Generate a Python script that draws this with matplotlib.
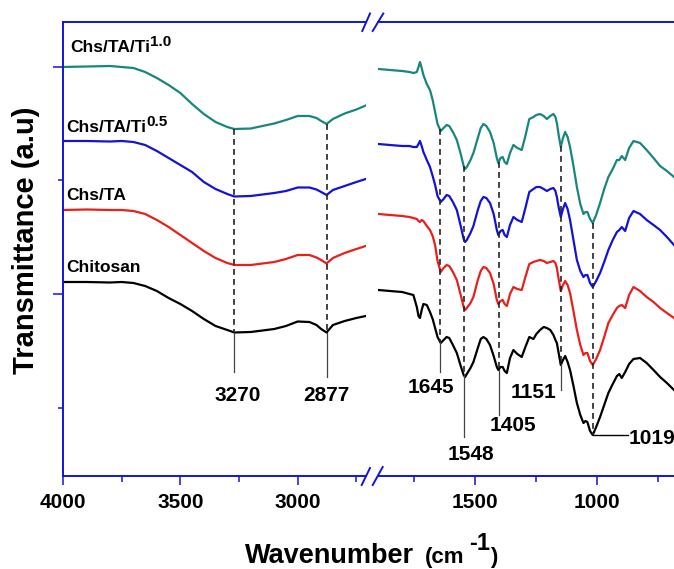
import numpy as np
import matplotlib
matplotlib.use('Agg')
import matplotlib.pyplot as plt
from matplotlib.lines import Line2D

plt.rcParams['font.family'] = ['Liberation Sans', 'DejaVu Sans']
plt.rcParams['font.weight'] = 'bold'

# ---- data (transmittance in a.u.) ----
names = ['Chitosan', 'Chs/TA', 'Chs/TA/Ti', 'Chs/TA/Ti']
name_sups = ['', '', '0.5', '1.0']

wn_left = [4000, 3900, 3800, 3750, 3700, 3650, 3600, 3550, 3500, 3450, 3400, 3350, 3300,
           3270, 3200, 3100, 3050, 3000, 2950, 2920, 2900, 2877, 2850, 2800, 2750, 2710]
chitosan_left = [194, 194, 193.5, 194, 193, 190, 185, 178, 172, 165, 157, 150, 146,
                 143.5, 144, 147, 150, 154.5, 154, 151, 147, 143.5, 151, 155, 158, 160]
chs_ta_left = [266, 266.5, 266, 266, 265, 262, 256, 249, 241, 233, 225, 218, 213,
               211, 211, 214, 217, 221, 221, 218.5, 216, 212.5, 218, 223, 227, 230]
ti05_left = [335, 335, 334.5, 335, 334, 331, 325, 318, 311, 304, 294, 287, 282,
             279.5, 280, 283, 285, 288.5, 288.5, 286.5, 284, 281, 286, 290, 294, 297]
ti10_left = [409, 409.5, 410, 409, 408, 404, 398, 391, 383, 372, 362, 354, 349,
             347, 347.5, 352.5, 356, 360, 360, 358, 355, 352, 357, 362.5, 366.5, 370.5]

wn_right = [1897, 1850, 1800, 1770, 1754, 1740, 1733, 1727, 1720, 1713,
            1699, 1686, 1675, 1665, 1655, 1642, 1630, 1618, 1607, 1592,
            1576, 1560, 1548, 1542, 1535, 1520, 1508, 1490, 1478, 1467,
            1455, 1440, 1425, 1412, 1406, 1397, 1388, 1380, 1371, 1358,
            1344, 1328, 1310, 1295, 1279, 1262, 1250, 1235, 1220, 1207,
            1193, 1180, 1172, 1166, 1158, 1150, 1141, 1132, 1122, 1112,
            1098, 1084, 1070, 1057, 1049, 1041, 1030, 1019, 1005, 989,
            972, 955, 937, 920, 910, 900, 886, 870, 852, 825,
            798, 770, 743, 715, 686]
chitosan_right = [186, 185, 184, 182, 181, 169, 160, 158, 166, 172,
                  171, 164, 157, 148, 139, 133, 136, 139, 138, 131,
                  123, 110, 101, 99, 102, 108, 114, 128, 137, 139,
                  137, 131, 120, 109, 106, 109, 109, 105, 103, 118,
                  126, 122, 119, 129, 139, 137, 142, 146, 149, 148,
                  146, 141, 136, 133, 122, 111, 116, 120, 114, 106,
                  90, 73, 61, 53, 55, 54, 45, 41, 49, 59,
                  71, 83, 92, 100, 102, 98, 104, 112, 117, 118,
                  113, 106, 99, 93, 86]
chs_ta_right = [262, 261, 260, 259, 258, 257, 255, 254, 256, 255,
                250, 246, 240, 231, 215, 204, 208, 211, 210, 204,
                196, 181, 169, 166, 168, 173, 179, 196, 205, 209,
                208, 203, 192, 176, 172, 175, 176, 172, 170, 182,
                189, 187, 186, 199, 212, 214, 215, 216, 215, 213,
                214, 215, 213, 208, 196, 185, 191, 195, 191, 183,
                165, 146, 131, 121, 123, 123, 115, 111, 117, 126,
                139, 153, 161, 168, 170, 171, 168, 181, 189, 185,
                179, 174, 168, 163, 158]
ti05_right = [332, 331, 330, 330, 329, 329, 332, 335, 330, 324,
              316, 309, 300, 291, 280, 274, 277, 281, 280, 274,
              266, 250, 237, 234, 236, 243, 250, 266, 275, 279,
              278, 273, 262, 246, 241, 245, 246, 241, 239, 251,
              259, 256, 254, 268, 284, 287, 289, 289, 287, 285,
              287, 288, 285, 279, 268, 259, 267, 273, 267, 256,
              236, 216, 205, 199, 201, 201, 193, 189, 195, 203,
              214, 226, 236, 244, 246, 249, 245, 258, 265, 262,
              256, 251, 246, 239, 231]
ti10_right = [407, 406, 405, 404, 403, 404, 409, 414, 408, 401,
              392, 386, 376, 364, 352, 345, 348, 351, 350, 344,
              336, 322, 310, 307, 309, 316, 323, 338, 348, 352,
              350, 344, 333, 318, 313, 318, 319, 314, 312, 323,
              331, 328, 326, 340, 357, 359, 361, 362, 360, 357,
              360, 362, 359, 353, 340, 329, 338, 344, 339, 329,
              310, 289, 272, 262, 264, 264, 257, 253, 261, 273,
              287, 299, 307, 316, 316, 320, 316, 328, 335, 333,
              326, 318, 310, 305, 299]

colors = ['black', '#e8201c', '#1212d8', '#17877d']
left_series = [chitosan_left, chs_ta_left, ti05_left, ti10_left]
right_series = [chitosan_right, chs_ta_right, ti05_right, ti10_right]

peaks_left = [3270, 2877]
peaks_right = [1645, 1548, 1405, 1151, 1019]

axis_blue = '#1414d8'

W, H = 674, 569
def fx(px):
    return px / W
def fy(py):
    return 1 - py / H

fig = plt.figure(figsize=(6.74, 5.69), dpi=100)
axL = fig.add_axes([fx(63), fy(476), fx(366) - fx(63), fy(22.3) - fy(476)])
axR = fig.add_axes([fx(378), fy(476), fx(674) - fx(378), fy(22.3) - fy(476)], sharey=axL)

for s, c in zip(left_series, colors):
    axL.plot(wn_left, s, color=c, lw=1.6)
for s, c in zip(right_series, colors):
    axR.plot(wn_right, s, color=c, lw=1.6)

axL.set_xlim(4000, 2709)
axR.set_xlim(1899, 686)
axL.set_ylim(0, 453.7)

for ax in (axL, axR):
    for sp in ax.spines.values():
        sp.set_color(axis_blue)
        sp.set_linewidth(1.4)
    ax.spines['right'].set_visible(False)
    ax.tick_params(axis='x', which='major', direction='out', length=6.5, width=1.1,
                   color=axis_blue, pad=6)
    ax.tick_params(axis='x', which='minor', direction='out', length=4, width=1.1,
                   color=axis_blue)

axR.spines['left'].set_visible(False)
axR.tick_params(axis='y', which='both', left=False, labelleft=False)

axL.set_xticks([4000, 3500, 3000])
axL.set_xticks([3750, 3250, 2750], minor=True)
axR.set_xticks([1500, 1000])
axR.set_xticks([1750, 1250, 750], minor=True)
axL.set_yticks([182, 409])
axL.set_yticks([68, 296], minor=True)
axL.tick_params(axis='y', which='major', direction='out', length=7, width=1.1,
                color=axis_blue, labelleft=False)
axL.tick_params(axis='y', which='minor', direction='out', length=3.8, width=1.1,
                color=axis_blue)
axL.set_xticklabels(['4000', '3500', '3000'], fontweight='bold', fontsize=15)
axR.set_xticklabels(['1500', '1000'], fontweight='bold', fontsize=15)

# series names (with superscripts placed after the base text)
name_pos = [(3987, 204), (3987, 276), (3987, 344), (3970, 424)]
for n, sup, (x, y) in zip(names, name_sups, name_pos):
    t = axL.text(x, y, n, fontsize=12.5, fontweight='bold', va='baseline', ha='left')
    if sup:
        axL.annotate(sup, xy=(1, 0), xycoords=t, xytext=(0, 4.5),
                     textcoords='offset points', fontsize=11, fontweight='bold',
                     ha='left', va='bottom')

# peak guide lines
def guides(ax, wn, top, bottom, peaks):
    wr = np.array(wn)[::-1]
    for p in peaks:
        yt = np.interp(p, wr, np.array(top)[::-1])
        yb = np.interp(p, wr, np.array(bottom)[::-1])
        ax.plot([p, p], [yt, yb], color='#222222', lw=1.2, dashes=(3.5, 2.5))

guides(axL, wn_left, ti10_left, chitosan_left, peaks_left)
guides(axR, wn_right, ti10_right, chitosan_right, peaks_right)

gray = '#444444'
lead_left = {3270: 104, 2877: 99}
lead_right = {1645: 104, 1548: 39, 1405: 61, 1151: 86}
for p, ye in lead_left.items():
    yb = np.interp(p, np.array(wn_left)[::-1], np.array(chitosan_left)[::-1])
    axL.plot([p, p], [yb, ye], color=gray, lw=0.9)
for p, ye in lead_right.items():
    yb = np.interp(p, np.array(wn_right)[::-1], np.array(chitosan_right)[::-1])
    axR.plot([p, p], [yb, ye], color=gray, lw=0.9)
yb = np.interp(1019, np.array(wn_right)[::-1], np.array(chitosan_right)[::-1])
axR.plot([1019, 874], [yb, yb], color='black', lw=1.0)

lab_kw = dict(fontsize=15, fontweight='bold', ha='center', va='center')
axL.text(3255, 80, '3270', **lab_kw)
axL.text(2877, 80, '2877', **lab_kw)
axR.text(1684, 88, '1645', **lab_kw)
axR.text(1519, 22, '1548', **lab_kw)
axR.text(1345, 50, '1405', **lab_kw)
axR.text(1262, 83, '1151', **lab_kw)
axR.text(872, 37, '1019', fontsize=15, fontweight='bold', ha='left', va='center')

# axis break marks
for (x0, y0, x1, y1) in [(361.7, 485, 370, 468), (372.7, 485, 382.7, 467),
                         (362.3, 31, 370, 13.5), (372.7, 31, 383.3, 13.5)]:
    fig.add_artist(Line2D([fx(x0), fx(x1)], [fy(y0), fy(y1)], color=axis_blue, lw=1.4))

# axis titles
fig.text(fx(26), fy(240), 'Transmittance (a.u)', rotation=90, fontsize=21,
         fontweight='bold', ha='center', va='center')
fig.text(fx(245), fy(563), 'Wavenumber', fontsize=19.5, fontweight='bold',
         ha='left', va='baseline')
fig.text(fx(425), fy(563), '(cm', fontsize=16, fontweight='bold', ha='left', va='baseline')
fig.text(fx(469), fy(550), '-1', fontsize=17, fontweight='bold', ha='left', va='baseline')
fig.text(fx(490), fy(563), ')', fontsize=16, fontweight='bold', ha='left', va='baseline')

fig.savefig('out.png', dpi=100)
